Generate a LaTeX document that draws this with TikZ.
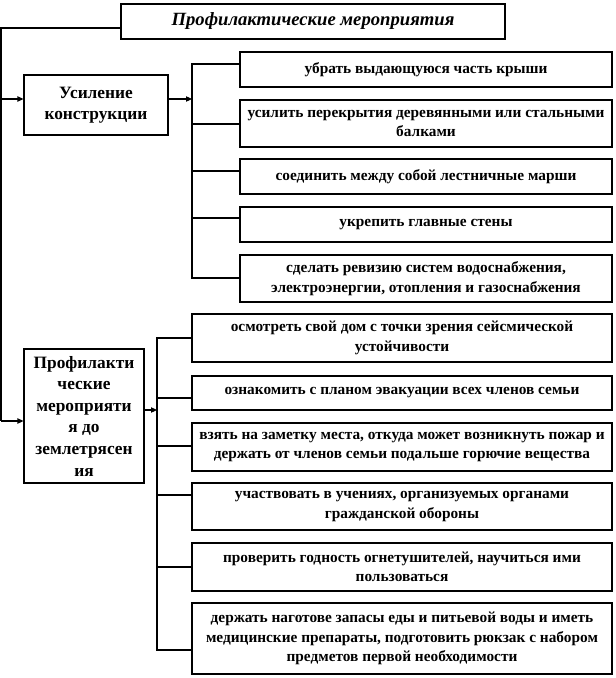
\documentclass[tikz,border=0pt]{standalone}
\usepackage{fontspec}
\setmainfont{Liberation Serif}
\usetikzlibrary{arrows.meta}
\begin{document}
\begin{tikzpicture}[x=0.75pt,y=-0.75pt,
  box/.style={draw,line width=0.8pt,inner sep=0pt,align=center,font=\bfseries\fontsize{11.5}{14.5}\selectfont},
  big/.style={draw,line width=0.8pt,inner sep=0pt,align=center,font=\bfseries\fontsize{13}{16.2}\selectfont},
  ttl/.style={draw,line width=0.8pt,inner sep=0pt,align=center,font=\bfseries\itshape\fontsize{14}{16}\selectfont},
  ln/.style={line width=0.8pt},
  arr/.style={line width=0.8pt,-{Triangle[length=4.5pt,width=4pt]}}]
\useasboundingbox (0,0) rectangle (616,678);
% title
\node[ttl,minimum width=384*0.75pt,minimum height=35*0.75pt] (t) at (313,21.5) {Профилактические мероприятия};
% left boxes
\node[big,font=\bfseries\fontsize{13}{15.8}\selectfont,minimum width=144*0.75pt,minimum height=60*0.75pt] (u) at (96,105) {Усиление\\конструкции};
\node[big,minimum width=120*0.75pt,minimum height=134*0.75pt] (p) at (84,416) {Профилакти\\ческие\\мероприяти\\я до\\землетрясен\\ия};
% column 1
\node[box,minimum width=372*0.75pt,minimum height=35*0.75pt] (b1) at (426,69.5) {убрать выдающуюся часть крыши};
\node[box,minimum width=372*0.75pt,minimum height=47*0.75pt] (b2) at (426,123.5) {усилить перекрытия деревянными или стальными\\балками};
\node[box,minimum width=372*0.75pt,minimum height=35*0.75pt] (b3) at (426,176.5) {соединить между собой лестничные марши};
\node[box,minimum width=372*0.75pt,minimum height=35*0.75pt] (b4) at (426,224.5) {укрепить главные стены};
\node[box,minimum width=372*0.75pt,minimum height=47*0.75pt] (b5) at (426,278.5) {сделать ревизию систем водоснабжения,\\электроэнергии, отопления и газоснабжения};
% column 2
\node[box,minimum width=420*0.75pt,minimum height=48*0.75pt] (c1) at (402,338) {осмотреть свой дом с точки зрения сейсмической\\устойчивости};
\node[box,minimum width=420*0.75pt,minimum height=34*0.75pt] (c2) at (402,393) {ознакомить с планом эвакуации всех членов семьи};
\node[box,minimum width=420*0.75pt,minimum height=48*0.75pt] (c3) at (402,447) {взять на заметку места, откуда может возникнуть пожар и\\держать от членов семьи подальше горючие вещества};
\node[box,minimum width=420*0.75pt,minimum height=47*0.75pt] (c4) at (402,506.5) {участвовать в учениях, организуемых органами\\гражданской обороны};
\node[box,minimum width=420*0.75pt,minimum height=48*0.75pt] (c5) at (402,567) {проверить годность огнетушителей, научиться ими\\пользоваться};
\node[box,minimum width=420*0.75pt,minimum height=71*0.75pt] (c6) at (402,638.5) {держать наготове запасы еды и питьевой воды и иметь\\медицинские препараты, подготовить рюкзак с набором\\предметов первой необходимости};
% left trunk
\coordinate (L0) at (1,28);
\coordinate (L1) at (1,99);
\coordinate (L2) at (1,421);
\draw[ln] (L0 -| t.west) -- (L0) -- (L2);
\draw[arr] (L1) -- (L1 -| u.west);
\draw[arr] (L2) -- (L2 -| p.west);
% column 1 trunk
\coordinate (ua) at (192,99);
\coordinate (k1) at (192,64);
\coordinate (k2) at (192,124);
\coordinate (k3) at (192,171);
\coordinate (k4) at (192,218);
\coordinate (k5) at (192,278);
\draw[arr] (ua -| u.east) -- (ua);
\draw[ln] (k1 -| b1.west) -- (k1) -- (k5) -- (k5 -| b5.west);
\draw[ln] (k2) -- (k2 -| b2.west);
\draw[ln] (k3) -- (k3 -| b3.west);
\draw[ln] (k4) -- (k4 -| b4.west);
% column 2 trunk
\coordinate (pa) at (157,410);
\coordinate (m1) at (157,338);
\coordinate (m2) at (157,398);
\coordinate (m3) at (157,446);
\coordinate (m4) at (157,495);
\coordinate (m5) at (157,567);
\coordinate (m6) at (157,650);
\draw[arr] (pa -| p.east) -- (pa);
\draw[ln] (m1 -| c1.west) -- (m1) -- (m6) -- (m6 -| c6.west);
\draw[ln] (m2) -- (m2 -| c2.west);
\draw[ln] (m3) -- (m3 -| c3.west);
\draw[ln] (m4) -- (m4 -| c4.west);
\draw[ln] (m5) -- (m5 -| c5.west);
\end{tikzpicture}
\end{document}
